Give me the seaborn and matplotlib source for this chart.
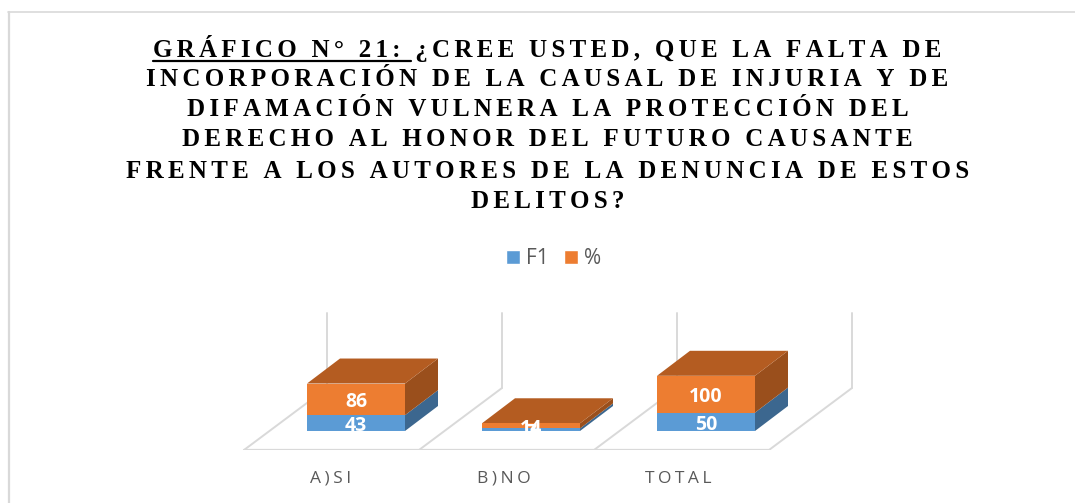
import matplotlib
matplotlib.use("Agg")
import matplotlib.pyplot as plt
from matplotlib.patches import Polygon
from matplotlib.lines import Line2D
import seaborn as sns
import pandas as pd

categories = ["A)SI", "B)NO", "TOTAL"]
f1_values = [43, 7, 50]
pct_values = [86, 14, 100]
title_lines = ["GRÁFICO N° 21: ¿CREE USTED, QUE LA FALTA DE",
               "INCORPORACIÓN DE LA CAUSAL DE INJURIA Y DE",
               "DIFAMACIÓN VULNERA LA PROTECCIÓN DEL",
               "DERECHO AL HONOR DEL FUTURO CAUSANTE",
               "FRENTE A LOS AUTORES DE LA DENUNCIA DE ESTOS",
               "DELITOS?"]
underlined = "GRÁFICO N° 21: "

W, H = 1075, 503
BLUE, ORANGE = "#5B9BD5", "#ED7D31"
BLUE_SIDE = "#3C678F"
ORANGE_SIDE, ORANGE_TOP = "#9A4F1C", "#B45C21"
GRID = "#D9D9D9"
HAIR = "\u200a\u200a"
TITLE_FS = 18.0

def spaced(s):
    return HAIR.join(s)

sns.set_theme(style="white")
plt.rcParams["font.family"] = ["Open Sans", "DejaVu Sans"]
fig = plt.figure(figsize=(W / 100, H / 100), dpi=100)
PX_Y = 0.368      # pixels per value unit
PX_X = 175.0      # pixels per category
FLOOR_PX, BASE_PX = 450, 431
ax = fig.add_axes([0, (H - FLOOR_PX) / H, 1, FLOOR_PX / H])
ax.patch.set_alpha(0)
df = pd.DataFrame({"cat": categories, "F1": f1_values, "%": pct_values})
BAR_W = 98 / PX_X
sns.barplot(data=df, x="cat", y="F1", color=BLUE, width=BAR_W, saturation=1, ax=ax,
            label="F1", zorder=3, linewidth=0)
sns.barplot(data=df, x="cat", y="%", color=ORANGE, width=BAR_W, saturation=1, ax=ax,
            label="%", bottom=f1_values, zorder=3, linewidth=0)
ax.set_xlim(-356 / PX_X, (W - 356) / PX_X)
ax.set_ylim((BASE_PX - FLOOR_PX) / PX_Y, BASE_PX / PX_Y)

# oblique depth of the pseudo-3D chart, in data units
dx_bar, dy_bar = 33 / PX_X, 25 / PX_Y
dx_fl, dy_fl = 83 / PX_X, 62 / PX_Y
y0 = -19 / PX_Y
x_left = (244 - 356) / PX_X
top_wall = (BASE_PX - 313) / PX_Y
for i in range(4):
    xf = x_left + i
    ax.plot([xf, xf + dx_fl], [y0, y0 + dy_fl], color=GRID, lw=1.4, zorder=1)
    ax.plot([xf + dx_fl] * 2, [y0 + dy_fl, top_wall], color=GRID, lw=1.4, zorder=1)
ax.plot([x_left, x_left + 3], [y0, y0], color=GRID, lw=1.6, zorder=1)

for i, (a, b) in enumerate(zip(f1_values, pct_values)):
    r = i + BAR_W / 2
    l = i - BAR_W / 2
    t = a + b
    ax.add_patch(Polygon([(r, 0), (r + dx_bar, dy_bar), (r + dx_bar, a + dy_bar), (r, a)], fc=BLUE_SIDE, lw=0, zorder=2.5))
    ax.add_patch(Polygon([(r, a), (r + dx_bar, a + dy_bar), (r + dx_bar, t + dy_bar), (r, t)], fc=ORANGE_SIDE, lw=0, zorder=2.5))
    ax.add_patch(Polygon([(l, t), (r, t), (r + dx_bar, t + dy_bar), (l + dx_bar, t + dy_bar)], fc=ORANGE_TOP, lw=0, zorder=2.5))

label_shift = 3 / PX_Y
for vals, bot in ((f1_values, [0, 0, 0]), (pct_values, f1_values)):
    for x, v, b in zip(range(3), vals, bot):
        ax.text(x, b + v / 2 - label_shift, str(v), color="white", ha="center", va="center",
                fontsize=14, fontweight="bold", zorder=5)

ax.set_xlabel(""); ax.set_ylabel("")
ax.set_yticks([])
ax.set_xticks([i - off / PX_X for i, off in enumerate((25, 27.5, 28))], [spaced(c) for c in categories])
ax.tick_params(axis="x", length=0, pad=15, labelsize=12.5, labelcolor="#595959")
sns.despine(ax=ax, left=True, bottom=True)
handles = [plt.Rectangle((0, 0), 1, 1, fc=BLUE), plt.Rectangle((0, 0), 1, 1, fc=ORANGE)]
ax.legend(handles, ["F1", "%"], ncol=2, frameon=False, loc="center",
          bbox_to_anchor=(553.5 / W, 1 - 258.5 / FLOOR_PX), fontsize=15, labelcolor="#595959",
          handlelength=0.68, handleheight=0.68, handletextpad=0.3, columnspacing=0.72)

# title
ys = [48, 79, 110, 140, 171, 201]
rend = fig.canvas.get_renderer()
for line, y in zip(title_lines, ys):
    t = fig.text(547.5 / W, 1 - y / H, spaced(line), ha="center", va="center", fontsize=TITLE_FS,
                 fontweight="bold", family=["Liberation Serif", "DejaVu Sans"], color="black")
    if line.startswith(underlined):
        full = t.get_window_extent(rend)
        probe = fig.text(0, 0, spaced(underlined), fontsize=TITLE_FS, fontweight="bold",
                         family=["Liberation Serif", "DejaVu Sans"])
        w = probe.get_window_extent(rend).width
        probe.remove()
        fig.add_artist(Line2D([full.x0 / W, (full.x0 + w) / W], [1 - 60.5 / H] * 2, color="black", lw=1.6))

# frame
fig.add_artist(Line2D([9 / W, 9 / W], [0, 1 - 11.5 / H], color=GRID, lw=1.6))
fig.add_artist(Line2D([8 / W, 1], [1 - 11.5 / H] * 2, color=GRID, lw=1.2))
fig.savefig("out.png", dpi=100)
